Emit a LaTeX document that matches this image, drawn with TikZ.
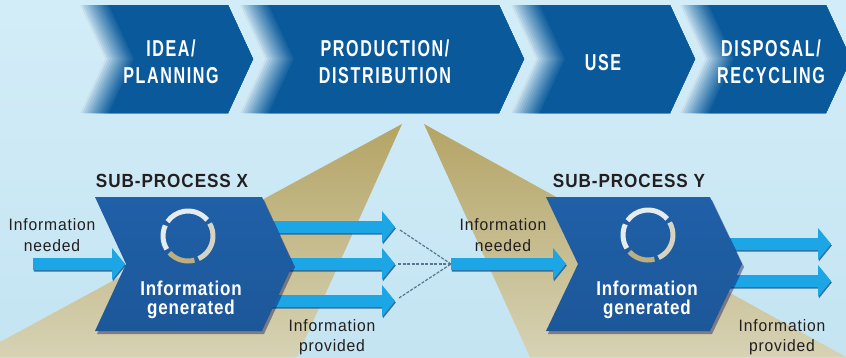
\documentclass[tikz,border=0pt]{standalone}
\usepackage{fontspec}
\setmainfont{Liberation Sans}
\newfontfamily\fbanner{Liberation Sans}[FakeStretch=0.7,LetterSpace=7]
\newfontfamily\fsub{Liberation Sans}[FakeStretch=0.9,LetterSpace=5]
\newfontfamily\fgen{Liberation Sans}[FakeStretch=0.85,LetterSpace=4]
\newfontfamily\finfo{Liberation Sans}[FakeStretch=0.95,LetterSpace=5]
\definecolor{bgtop}{HTML}{D3EDF8}
\definecolor{bgmid}{HTML}{E4F4FB}
\definecolor{bgbot}{HTML}{C4E4F2}
\definecolor{bannerblue}{HTML}{0A5A9B}
\definecolor{bannerlight}{HTML}{E2F3FA}
\definecolor{boxblue}{HTML}{2060A8}
\definecolor{boxdark}{HTML}{1C5799}
\definecolor{arrowcyan}{HTML}{1CA6E6}
\definecolor{arrowshade}{HTML}{1A5A8E}
\definecolor{tanc}{HTML}{B4A465}
\definecolor{tanlight}{HTML}{D6D2B4}
\definecolor{txt}{HTML}{231F20}
\definecolor{ringc}{HTML}{E6EBEE}
\definecolor{ringgold}{HTML}{BCAE7E}
\definecolor{dashc}{HTML}{56788E}
\usetikzlibrary{calc}
\newcommand\chevron[2]{%
  \begin{scope}
    \clip (#1,5) -- ({#1+25},59) -- (#1,113) -- (#2,113) -- ({#2+25},59) -- (#2,5) -- cycle;
    \fill[bannerlight] ({#1-5},0) rectangle ({#2+30},120);
    \foreach \i in {1,...,13}{%
      \pgfmathtruncatemacro\p{100*(\i/13)^0.8}%
      \fill[bannerblue!\p!bannerlight] ({#1+2.4*(\i-1)},5) -- ({#1+25+2.4*(\i-1)},59) -- ({#1+2.4*(\i-1)},113) -- ({#2+40},113) -- ({#2+40},5) -- cycle;
    }
  \end{scope}}
\newcommand\fatarrow[4]{%
  \fill[arrowshade, opacity=0.85, shift={(0.8,1.5)}] ({#2},{#4-6}) -- ({#3-13},{#4-6}) -- ({#3-13},{#4-16}) -- ({#3},{#4}) -- ({#3-13},{#4+16}) -- ({#3-13},{#4+6}) -- ({#2},{#4+6}) -- cycle;
  \fill[arrowcyan] ({#2},{#4-6}) -- ({#3-13},{#4-6}) -- ({#3-13},{#4-16}) -- ({#3},{#4}) -- ({#3-13},{#4+16}) -- ({#3-13},{#4+6}) -- ({#2},{#4+6}) -- cycle;
  \coordinate (#1-tail) at ({#2},{#4});
  \coordinate (#1-tip) at ({#3},{#4});}
\newcommand\ring[1]{%
  \draw[ringc, line width=5pt] ($(#1)+(-40:25)$) arc[start angle=-40, end angle=-145, radius=25];
  \draw[ringc, line width=5pt] ($(#1)+(-155:25)$) arc[start angle=-155, end angle=-212, radius=25];
  \draw[ringgold, line width=5pt] ($(#1)+(-222:25)$) arc[start angle=-222, end angle=-285, radius=25];
  \draw[ringc!60!ringgold, line width=5pt] ($(#1)+(-295:25)$) arc[start angle=-295, end angle=-390, radius=25];}
\newcommand\procbox[6]{% L R y-top y-bot depth name
  \fill[black!70!blue, opacity=0.4, shift={(2,3)}] (#1,#3) -- (#2,#3) -- ({#2+#5},{(#3+#4)/2}) -- (#2,#4) -- (#1,#4) -- ({#1+#5},{(#3+#4)/2}) -- cycle;
  \shade[top color=boxblue, bottom color=boxdark] (#1,#3) -- (#2,#3) -- ({#2+#5},{(#3+#4)/2}) -- (#2,#4) -- (#1,#4) -- ({#1+#5},{(#3+#4)/2}) -- cycle;
  \coordinate (#6) at ({(#1+#2)/2},{(#3+#4)/2});}
\begin{document}
\begin{tikzpicture}[x=1pt,y=-1pt,
  bannertxt/.style={font=\fbanner\bfseries\fontsize{23}{26}\selectfont, text=white, anchor=base, inner sep=0pt},
  subtxt/.style={font=\fsub\bfseries\fontsize{19}{22}\selectfont, text=txt, anchor=base, inner sep=0pt},
  gentxt/.style={font=\fgen\bfseries\fontsize{20}{22}\selectfont, text=white, anchor=base, inner sep=0pt},
  infotxt/.style={font=\finfo\fontsize{16.5}{20}\selectfont, text=txt, anchor=base, inner sep=0pt},
  dashline/.style={draw=dashc, line width=1.2pt, dash pattern=on 3pt off 1.5pt}]
\useasboundingbox (0,0) rectangle (846,357);
\shade[top color=bgtop, middle color=bgmid, bottom color=bgbot] (0,0) rectangle (846,357);
% banner
\chevron{80}{228}
\chevron{240}{499}
\chevron{511}{670}
\chevron{680}{826}
\node[bannertxt] (b1a) at (171,56) {IDEA/};
\node[bannertxt] (b1b) at (171,83) {PLANNING};
\node[bannertxt] (b2a) at (385,56) {PRODUCTION/};
\node[bannertxt] (b2b) at (385,83) {DISTRIBUTION};
\node[bannertxt] (b3) at (603,70) {USE};
\node[bannertxt] (b4a) at (771,56) {DISPOSAL/};
\node[bannertxt] (b4b) at (771,83) {RECYCLING};
% beams
\shade[top color=tanc, bottom color=tanlight] (402,124) -- (0,342) -- (0,357) -- (297,357) -- cycle;
\shade[top color=tanc, bottom color=tanlight] (424,124) -- (846,357) -- (530,357) -- cycle;
% sub-process X
\fatarrow{ox1}{265}{395}{227}
\fatarrow{ox2}{280}{395}{264}
\fatarrow{ox3}{265}{395}{301}
\procbox{95}{262}{197}{331}{31}{bx}
\fatarrow{ix}{33}{125}{264}
\ring{188,236}
\node[subtxt] (sx) at (172,187) {SUB-PROCESS X};
\node[gentxt] (gx1) at (191,295) {Information};
\node[gentxt] (gx2) at (191,314) {generated};
\node[infotxt] (nx1) at (52,230) {Information};
\node[infotxt] (nx2) at (52,251) {needed};
\node[infotxt] (px1) at (332,331) {Information};
\node[infotxt] (px2) at (332,351) {provided};
% sub-process Y
\fatarrow{oy1}{715}{831}{244}
\fatarrow{oy2}{715}{831}{281}
\procbox{546}{710}{197}{331}{32}{by}
\fatarrow{iy}{451}{566}{264}
\ring{648,235}
\node[subtxt] (sy) at (629,187) {SUB-PROCESS Y};
\node[gentxt] (gy1) at (647,295) {Information};
\node[gentxt] (gy2) at (647,314) {generated};
\node[infotxt] (ny1) at (503,230) {Information};
\node[infotxt] (ny2) at (503,251) {needed};
\node[infotxt] (py1) at (782,331) {Information};
\node[infotxt] (py2) at (782,351) {provided};
% dashed links
\draw[dashline] ($(ox1-tip)+(5,3)$) -- (iy-tail);
\draw[dashline] ($(ox2-tip)+(3,0)$) -- (iy-tail);
\draw[dashline] ($(ox3-tip)+(4,-3)$) -- (iy-tail);
\end{tikzpicture}
\end{document}
